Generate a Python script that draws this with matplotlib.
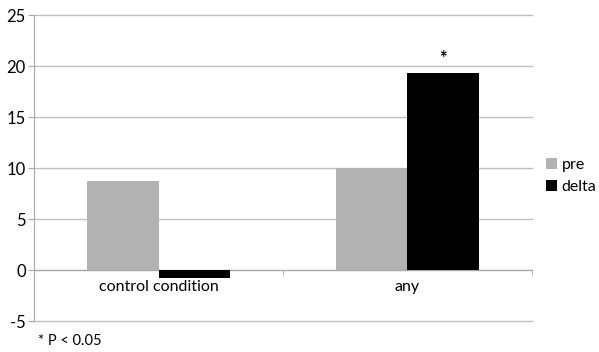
import numpy as np
import matplotlib.pyplot as plt

plt.rcParams['font.family'] = ['Lato', 'DejaVu Sans']

categories = ["control condition", "any"]
pre = [8.7, 10.0]
delta = [-0.8, 19.3]
yticks = [-5, 0, 5, 10, 15, 20, 25]

x = np.arange(len(categories))
w = 0.2875

fig = plt.figure(figsize=(5.99, 3.52), dpi=100)
ax = fig.add_axes([0.057, 0.088, 0.831, 0.869])

b1 = ax.bar(x - w / 2, pre, w, color="#b2b2b2", label="pre", zorder=3)
b2 = ax.bar(x + w / 2, delta, w, color="black", label="delta", zorder=3)

# significance mark
ax.text(x[1] + w / 2, delta[1] + 0.6, "*", ha="center", va="bottom",
        fontsize=13, fontweight="bold")

ax.set_xlim(-0.5, 1.5)
ax.set_ylim(-5, 25)
ax.set_yticks(yticks)
ax.set_yticklabels([str(v) for v in yticks], fontsize=12)
for v in yticks:
    ax.axhline(v, color="#c0c0c0", linewidth=1.0, zorder=0, clip_on=False)

for s in ["top", "right"]:
    ax.spines[s].set_visible(False)
ax.spines["left"].set_color("#a8a8a8")
ax.spines["bottom"].set_position(("data", 0))
ax.spines["bottom"].set_color("#a8a8a8")

ax.set_xticks(x)
ax.set_xticklabels(categories, fontsize=11.5)
ax.set_xticks([0.5, 1.5], minor=True)
ax.tick_params(axis="x", which="major", length=0, pad=7)
ax.tick_params(axis="x", which="minor", length=4, color="#a8a8a8", direction="out")
ax.tick_params(axis="y", length=4, color="#a8a8a8", pad=2)

fig.legend(handles=[b1, b2], loc="center left", bbox_to_anchor=(0.912, 0.5),
           frameon=False, fontsize=11.5, handlelength=0.7, handleheight=0.7,
           handletextpad=0.25, labelspacing=0.45, borderpad=0, borderaxespad=0)

fig.text(0.063, 0.03, "* P < 0.05", fontsize=10.5, ha="left", va="center")

plt.savefig("out.png", dpi=100)
